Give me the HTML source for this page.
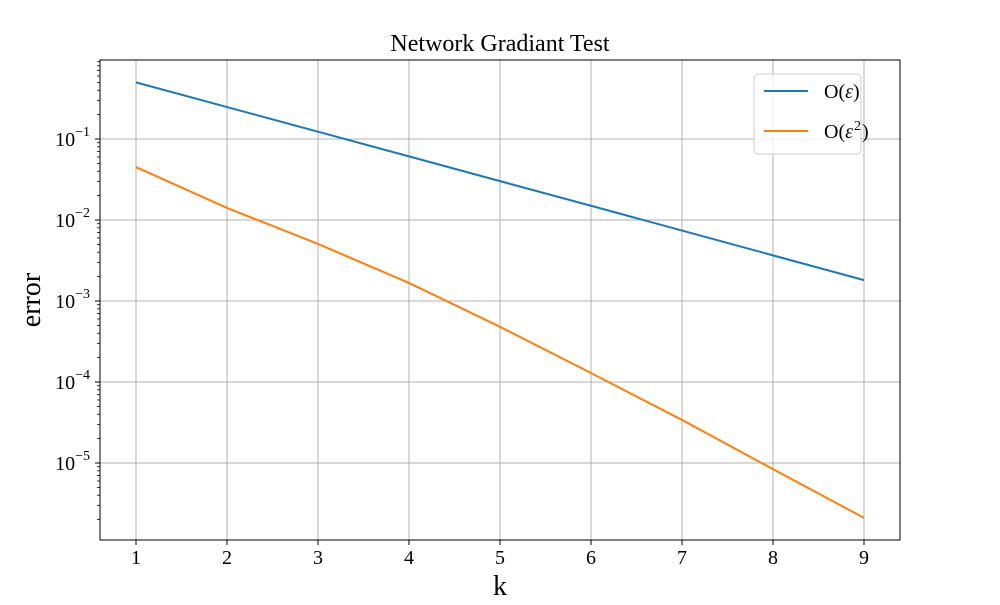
<!DOCTYPE html>
<html><head><meta charset="utf-8"><style>
body{margin:0;background:#fff}
svg text{font-family:"Liberation Serif",serif;fill:#000}
</style></head><body>
<svg width="1000" height="600" id="chart">
<rect width="1000" height="600" fill="#fff"/>
<g id="grid"></g>
<g id="series"></g>
<rect x="100" y="60" width="800" height="480" fill="none" stroke="#000" stroke-width="1"/>
<g id="axes"></g>
<text x="500" y="51" font-size="24" text-anchor="middle">Network Gradiant Test</text>
<text x="500" y="595" font-size="28" text-anchor="middle">k</text>
<text transform="translate(40,300) rotate(-90)" font-size="28" text-anchor="middle">error</text>
<g>
<rect x="754" y="74" width="107" height="80" rx="4" fill="#fff" fill-opacity="0.8" stroke="#ccc"/>
<line x1="764" y1="91" x2="808" y2="91" stroke="#1f77b4" stroke-width="2"/>
<text x="824" y="98" font-size="20">O(<tspan font-style="italic">ε</tspan>)</text>
<line x1="764" y1="131" x2="808" y2="131" stroke="#ff7f0e" stroke-width="2"/>
<text x="824" y="138" font-size="20">O(<tspan font-style="italic">ε</tspan><tspan font-size="14" dy="-8" dx="1">2</tspan><tspan dy="8" dx="1">)</tspan></text>
</g>
</svg>
<script>
const categories=[1,2,3,4,5,6,7,8,9];
const seriesEps=[0.5,0.248,0.123,0.061,0.0302,0.015,0.0074,0.00366,0.00181];
const seriesEps2=[0.045,0.0141,0.00506,0.00167,0.00048,0.000129,0.000034,0.0000084,0.0000021];
const yTickExps=[-1,-2,-3,-4,-5];
const NS="http://www.w3.org/2000/svg";
function xS(k){return 136+(k-1)*91;}
function yS(v){return 139-(Math.log10(v)+1)*81;}
function mk(t,a,p){const e=document.createElementNS(NS,t);for(const k in a)e.setAttribute(k,a[k]);p.appendChild(e);return e;}
const grid=document.getElementById('grid'),axes=document.getElementById('axes'),ser=document.getElementById('series');
categories.forEach(k=>{
 const x=xS(k);
 const g=mk('line',{x1:x,x2:x,y1:60,y2:540,stroke:'#b0b0b0','stroke-width':1},grid);
 
 
 mk('line',{x1:x,x2:x,y1:540,y2:545,stroke:'#000'},axes);
 const t=mk('text',{x:x,y:564,'font-size':20,'text-anchor':'middle'},axes);t.textContent=k;
 
 
});
yTickExps.forEach(e=>{
 const y=yS(Math.pow(10,e));
 const g=mk('line',{x1:100,x2:900,y1:y,y2:y,stroke:'#b0b0b0','stroke-width':1},grid);
 
 
 mk('line',{x1:95,x2:100,y1:y,y2:y,stroke:'#000'},axes);
 const t=mk('text',{x:90,y:y+7,'font-size':20,'text-anchor':'end'},axes);
 t.innerHTML='10<tspan font-size="14" dy="-10">−'+(-e)+'</tspan>';
 
 
});
for(let e=-6;e<=0;e++)for(let m=2;m<=9;m++){
 const y=yS(m*Math.pow(10,e));
 if(y<60||y>540)continue;
 mk('line',{x1:97,x2:100,y1:y,y2:y,stroke:'#000','stroke-width':0.8},axes);
}
function line(vals,color,name){
 const p=mk('polyline',{points:vals.map((v,i)=>xS(categories[i])+','+yS(v)).join(' '),fill:'none',stroke:color,'stroke-width':2},ser);
 
 
}
line(seriesEps,'#1f77b4','series-o-eps');
line(seriesEps2,'#ff7f0e','series-o-eps2');
</script>
</body></html>
